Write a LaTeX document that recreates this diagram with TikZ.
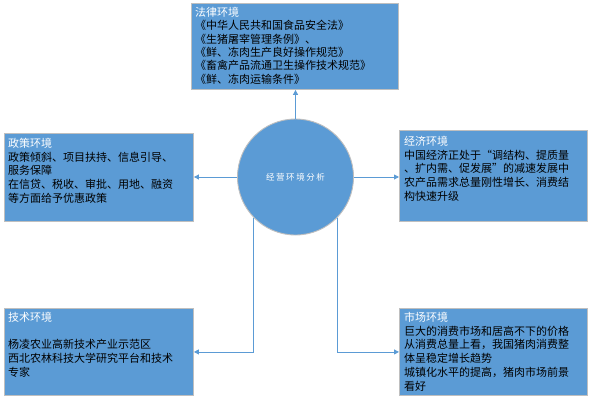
\documentclass[tikz,border=0pt]{standalone}
\usepackage{fontspec}
\setmainfont{Noto Sans CJK SC}
\newfontfamily\cjkspaced[LetterSpace=18]{Noto Sans CJK SC}
\usetikzlibrary{arrows.meta}
\definecolor{boxblue}{HTML}{5B9BD5}
\definecolor{boxedge}{HTML}{BFBFBF}
\tikzset{
  envbox/.style={draw=boxedge, line width=0.9pt, fill=boxblue, anchor=north west, inner sep=0pt},
  envtext/.style={anchor=north west, inner sep=0pt, align=left, font=\fontsize{11}{13.7}\selectfont, text=black},
  conn/.style={draw=boxblue, line width=0.9pt, -{Triangle[length=5pt,width=5pt]}},
}
\newcommand{\ttl}[1]{\textcolor{white}{#1}}
\begin{document}
\begin{tikzpicture}[x=1pt,y=-1pt]
\useasboundingbox (0,0) rectangle (591,402);
% boxes
\node[envbox, minimum width=207pt, minimum height=86pt] (law) at (191,3) {};
\node[envbox, minimum width=189pt, minimum height=88pt] (policy) at (4,133) {};
\node[envbox, minimum width=188pt, minimum height=91pt] (econ) at (399,130) {};
\node[envbox, minimum width=189pt, minimum height=87pt] (tech) at (4,308) {};
\node[envbox, minimum width=188pt, minimum height=87pt] (market) at (399,308) {};
% centre circle
\node[circle, draw=boxedge, line width=0.9pt, fill=boxblue, minimum size=116pt, inner sep=0pt,
      font=\cjkspaced\fontsize{8.5}{10}\selectfont, text=white] (centre) at (295.5,177) {经营环境分析};
% texts
\node[envtext, font=\fontsize{11}{13.3}\selectfont] (lawtext) at ([shift={(4,4)}]law.north west)
  {\ttl{法律环境}\\《中华人民共和国食品安全法》\\《生猪屠宰管理条例》、\\《鲜、冻肉生产良好操作规范》\\《畜禽产品流通卫生操作技术规范》\\《鲜、冻肉运输条件》};
\node[envtext] (policytext) at ([shift={(4,5)}]policy.north west)
  {\ttl{政策环境}\\政策倾斜、项目扶持、信息引导、\\服务保障\\在信贷、税收、审批、用地、融资\\等方面给予优惠政策};
\node[envtext] (econtext) at ([shift={(5,6)}]econ.north west)
  {\ttl{经济环境}\\中国经济正处于“调结构、提质量\\、扩内需、促发展”的减速发展中\\农产品需求总量刚性增长、消费结\\构快速升级};
\node[envtext] (techtext) at ([shift={(4,4)}]tech.north west)
  {\ttl{技术环境}\\[13.7pt]杨凌农业高新技术产业示范区\\西北农林科技大学研究平台和技术\\专家};
\node[envtext] (markettext) at ([shift={(5,4)}]market.north west)
  {\ttl{市场环境}\\巨大的消费市场和居高不下的价格\\从消费总量上看，我国猪肉消费整\\体呈稳定增长趋势\\城镇化水平的提高，猪肉市场前景\\看好};
% connectors
\draw[conn] (centre.north) -- (centre.north |- law.south);
\draw[conn] (centre.west) -- (centre.west -| policy.east);
\draw[conn] (centre.east) -- (centre.east -| econ.west);
\draw[conn] (centre.-136) |- (tech.east);
\draw[conn] (centre.-44) |- (market.west);
\end{tikzpicture}
\end{document}
